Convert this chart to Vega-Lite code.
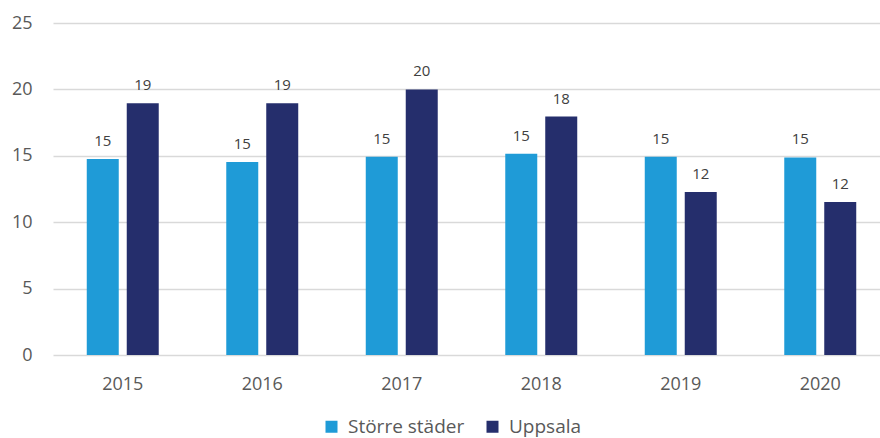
{
  "$schema": "https://vega.github.io/schema/vega-lite/v6.json",
  "width": 837,
  "height": 332,
  "autosize": {"type": "none"},
  "padding": {"left": 53, "top": 23, "right": 0, "bottom": 83},
  "background": "white",
  "config": {
    "font": "Open Sans",
    "view": {"stroke": null},
    "axis": {"labelFont": "Open Sans", "labelColor": "#595959", "labelFontSize": 18}
  },
  "data": {
    "values": [
      {"year": "2015", "serie": "Större städer", "value": 14.76},
      {"year": "2015", "serie": "Uppsala", "value": 18.95},
      {"year": "2016", "serie": "Större städer", "value": 14.53},
      {"year": "2016", "serie": "Uppsala", "value": 18.95},
      {"year": "2017", "serie": "Större städer", "value": 14.93},
      {"year": "2017", "serie": "Uppsala", "value": 20.0},
      {"year": "2018", "serie": "Större städer", "value": 15.16},
      {"year": "2018", "serie": "Uppsala", "value": 17.95},
      {"year": "2019", "serie": "Större städer", "value": 14.93},
      {"year": "2019", "serie": "Uppsala", "value": 12.27},
      {"year": "2020", "serie": "Större städer", "value": 14.88},
      {"year": "2020", "serie": "Uppsala", "value": 11.52}
    ]
  },
  "encoding": {
    "x": {
      "field": "year", "type": "nominal", "title": null,
      "scale": {"paddingInner": 0.484, "paddingOuter": 0.242},
      "axis": {"labelAngle": 0, "domain": false, "ticks": false, "labelPadding": 20, "grid": false}
    },
    "xOffset": {"field": "serie", "type": "nominal", "scale": {"paddingInner": 0.2, "paddingOuter": 0}},
    "y": {
      "field": "value", "type": "quantitative", "title": null,
      "scale": {"domain": [0, 25], "nice": false},
      "axis": {"values": [0, 5, 10, 15, 20, 25], "domain": false, "ticks": false, "labelPadding": 21, "gridColor": "#d9d9d9", "gridWidth": 1.3}
    }
  },
  "layer": [
    {
      "mark": {"type": "bar"},
      "encoding": {
        "color": {
          "field": "serie", "type": "nominal", "title": null,
          "scale": {"domain": ["Större städer", "Uppsala"], "range": ["#1F9BD7", "#252E6C"]},
          "legend": {
            "orient": "none", "direction": "horizontal", "legendX": 269, "legendY": 394,
            "symbolType": "square", "symbolSize": 144, "symbolStrokeWidth": 0,
            "labelFontSize": 19, "labelColor": "#595959", "labelFont": "Open Sans",
            "columnPadding": 18, "labelOffset": 7, "labelLimit": 300
          }
        }
      }
    },
    {
      "mark": {"type": "text", "dy": -18, "fontSize": 15, "color": "#404040", "font": "Open Sans"},
      "encoding": {
        "text": {"field": "value", "type": "quantitative", "format": ".0f"}
      }
    }
  ]
}
